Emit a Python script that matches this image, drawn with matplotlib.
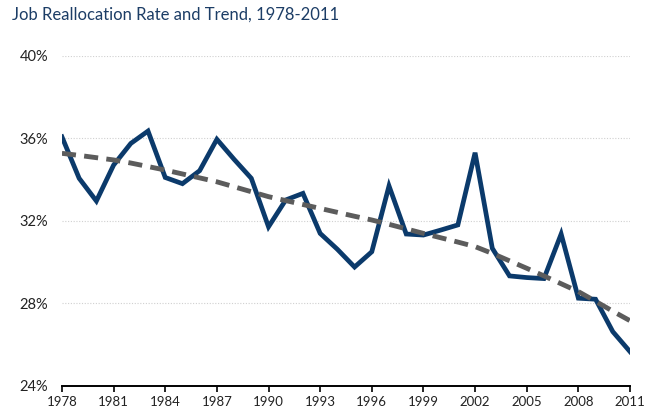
import matplotlib
matplotlib.use("Agg")
import matplotlib.pyplot as plt

plt.rcParams["font.family"] = ["Lato", "DejaVu Sans"]

years = list(range(1978, 2012))
realloc_rate = [36.07, 34.06, 32.96, 34.70, 35.75, 36.35, 34.10, 33.80, 34.43, 35.95,
                34.98, 34.06, 31.71, 33.01, 33.33, 31.39, 30.62, 29.76, 30.50, 33.69,
                31.36, 31.31, 31.55, 31.80, 35.30, 30.67, 29.33, 29.25, 29.20, 31.36,
                28.25, 28.20, 26.63, 25.66]
trend = [35.27, 35.17, 35.06, 34.95, 34.80, 34.63, 34.46, 34.27, 34.08, 33.89,
         33.65, 33.41, 33.17, 32.98, 32.79, 32.60, 32.41, 32.22, 32.04, 31.83,
         31.61, 31.39, 31.18, 30.97, 30.75, 30.42, 30.06, 29.70, 29.33, 28.95,
         28.57, 28.10, 27.62, 27.16]
x_ticks = list(range(1978, 2012, 3))
y_ticks = [24, 28, 32, 36, 40]

NAVY = "#0b3a6b"
GREY = "#5c5c5c"

fig = plt.figure(figsize=(6.59, 4.19), dpi=100)
ax = fig.add_axes([0.094, 0.079, 0.862, 0.788])

ax.plot(years, realloc_rate, color=NAVY, linewidth=3.4, solid_joinstyle="miter", zorder=3)
ax.plot(years, trend, color=GREY, linewidth=3.5, linestyle=(0, (2.9, 1.7)), zorder=4)

ax.set_xlim(1978, 2011)
ax.set_ylim(24, 40)
ax.set_xticks(x_ticks)
ax.set_xticklabels([str(y) for y in x_ticks], fontsize=9.5, color="#222222")
ax.set_yticks(y_ticks)
ax.set_yticklabels([f"{v}%" for v in y_ticks], fontsize=10.5, color="#222222")

for v in y_ticks[1:]:
    ax.axhline(v, color="#d0d0d0", linewidth=0.8, linestyle=(0, (1, 1.5)), zorder=1)

for side in ["top", "right", "left"]:
    ax.spines[side].set_visible(False)
ax.spines["bottom"].set_linewidth(1.4)
ax.spines["bottom"].set_color("black")
ax.spines["bottom"].set_zorder(5)
ax.tick_params(axis="x", direction="out", length=4, width=1.2, pad=3)
ax.tick_params(axis="y", length=0, pad=10)

fig.text(0.018, 0.965, "Job Reallocation Rate and Trend, 1978-2011", fontsize=12,
         color="#1c3d66", ha="left", va="center")

fig.savefig("out.png", dpi=100)
